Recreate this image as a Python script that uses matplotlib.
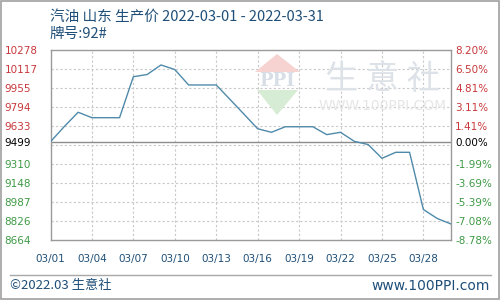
import matplotlib
matplotlib.use("Agg")
import matplotlib.pyplot as plt
from matplotlib.patches import Polygon, Rectangle
import numpy as np

plt.rcParams['font.family'] = ['DejaVu Sans', 'Noto Sans CJK SC']

# data (gasoline 92#, Shandong, March 2022)
days = list(range(1, 31))
prices = [9499, 9628, 9749, 9703, 9703, 9703, 10051, 10070, 10151, 10112,
          9981, 9981, 9981, 9858, 9734, 9609, 9579, 9626, 9626, 9626,
          9559, 9579, 9502, 9475, 9358, 9409, 9409, 8923, 8847, 8800]
base_price = 9499
y_min, y_max = 8664, 10278
left_labels = ['10278', '10117', '9955', '9794', '9633',
               '9310', '9148', '8987', '8826', '8664']
right_labels = ['8.20%', '6.50%', '4.81%', '3.11%', '1.41%',
                '-1.99%', '-3.69%', '-5.39%', '-7.08%', '-8.78%']
xtick_days = [1, 4, 7, 10, 13, 16, 19, 22, 25, 28]
title = '汽油 山东 生产价 2022-03-01 - 2022-03-31'
subtitle = '牌号:92#'

W, H = 500, 300
RED = '#c8383c'
GREEN = '#3e9a45'
BLUE_TXT = '#1f4f78'
LINE = '#4f8aaa'

cjk = ['Noto Sans CJK SC', 'DejaVu Sans']


def fx(px):
    return px / W


def fy(py):
    return 1 - py / H


fig = plt.figure(figsize=(W / 100, H / 100), dpi=100)
fig.patch.set_facecolor('white')

# outer frame of the picture
fig.patches.append(Rectangle((0.001, 0.002), 0.997, 0.995, transform=fig.transFigure,
                             fill=False, edgecolor='#a0a0a0', lw=1.2))

ax = fig.add_axes([fx(50.5), fy(240), fx(451) - fx(50.5), fy(50) - fy(240)])
ax.set_xlim(1, 30)
ax.set_ylim(y_min, y_max)

# watermark
wm = '#dde2e8'
fig.patches.append(Polygon([(fx(255), fy(72)), (fx(300), fy(72)), (fx(277), fy(54))],
                           closed=True, transform=fig.transFigure, facecolor='#f6d3d0',
                           edgecolor='none', zorder=0))
fig.patches.append(Polygon([(fx(257), fy(90)), (fx(298), fy(90)), (fx(277), fy(115))],
                           closed=True, transform=fig.transFigure, facecolor='#d6ecd4',
                           edgecolor='none', zorder=0))
fig.text(fx(277), fy(81), 'PPI', ha='center', va='center', fontsize=13,
         fontweight='bold', color='#d8dee6', family='DejaVu Serif', zorder=0)
fig.text(fx(383), fy(79), '生 意 社', ha='center', va='center', fontsize=24,
         color=wm, family=cjk, zorder=0)
fig.text(fx(383), fy(106), 'WWW.100PPI.COM', ha='center', va='center', fontsize=10,
         color='#e6e6e6', zorder=0)

ax.patch.set_alpha(0)

# grid
grid_vals = np.linspace(y_min, y_max, 11)
for g in grid_vals[1:-1]:
    ax.axhline(g, color='#c8c8c8', lw=0.8, ls=(0, (2, 2)), zorder=1)
for d in xtick_days[1:]:
    ax.axvline(d, color='#c8c8c8', lw=0.8, ls=(0, (2, 2)), zorder=1)
ax.axhline(base_price, color='#8c8c8c', lw=1.0, zorder=2)

ax.plot(days, prices, color=LINE, lw=1.0, zorder=3)

for s in ax.spines.values():
    s.set_color('#9a9a9a')
    s.set_linewidth(1.0)

# left ticks
tick_vals = list(grid_vals[::-1][:5]) + [base_price] + list(grid_vals[::-1][6:])
tick_text = left_labels[:5] + [str(base_price)] + left_labels[5:]
tick_cols = [RED] * 5 + ['black'] + [GREEN] * 5
ax.set_yticks(tick_vals)
ax.set_yticklabels(tick_text, fontsize=7.5)
ax.tick_params(axis='y', length=0, pad=33)
for lab, c in zip(ax.get_yticklabels(), tick_cols):
    lab.set_color(c)
    lab.set_horizontalalignment('left')

ax2 = ax.twinx()
ax2.set_ylim(y_min, y_max)
ax2.set_yticks(tick_vals)
ax2.set_yticklabels(right_labels[:5] + ['0.00%'] + right_labels[5:], fontsize=7.5)
ax2.tick_params(axis='y', length=0, pad=3)
for lab, c in zip(ax2.get_yticklabels(), tick_cols):
    lab.set_color(c)
for s in ax2.spines.values():
    s.set_visible(False)

ax.set_xticks(xtick_days)
ax.set_xticklabels(['03/%02d' % d for d in xtick_days], fontsize=7.5, color=BLUE_TXT)
ax.tick_params(axis='x', length=0, pad=10)

# title
fig.text(fx(50), fy(17), title, ha='left', va='center', fontsize=10.5,
         color=BLUE_TXT, family=cjk)
fig.text(fx(50), fy(34), subtitle, ha='left', va='center', fontsize=10.5,
         color=BLUE_TXT, family=cjk)

# footer
fig.add_artist(plt.Line2D([fx(10), fx(491)], [fy(275), fy(275)], color='#a8a8a8', lw=1.0))
fig.text(fx(10), fy(286), '©2022.03 生意社', ha='left', va='center', fontsize=9.5,
         color=BLUE_TXT, family=cjk)
fig.text(fx(490), fy(286), 'www.100PPI.com', ha='right', va='center', fontsize=10,
         color=BLUE_TXT)

fig.savefig('out.png', dpi=100)
